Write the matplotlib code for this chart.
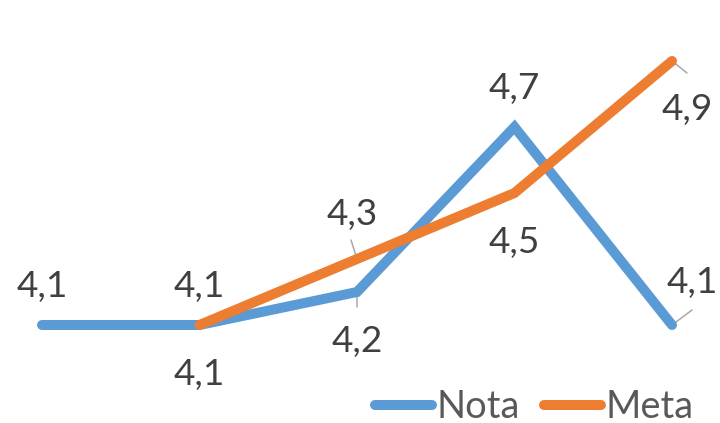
import matplotlib.pyplot as plt
import numpy as np

plt.rcParams['font.family'] = ['Lato', 'DejaVu Sans']

x = [0, 1, 2, 3, 4]
nota = [4.1, 4.1, 4.2, 4.7, 4.1]
meta = [np.nan, 4.1, 4.3, 4.5, 4.9]
nota_labels = ['4,1', '4,1', '4,2', '4,7', '4,1']
meta_labels = ['', '4,1', '4,3', '4,5', '4,9']

# label placement (offset points from the data point, baseline)
nota_off = [(0, 28), (0, 28), (0, -60), (0, 28), (20, 32)]
meta_off = [None, (0, -60), (-5, 34), (0, -60), (15, -59)]
# leader line end offsets, None for no leader
nota_lead = [None, None, (0, -15), None, (20, 15)]
meta_lead = [None, None, (-6, 19), None, (15, -12)]

blue = '#5B9BD5'
orange = '#ED7D31'
txt = '#404040'
fs = 37

fig = plt.figure(figsize=(10, 5.875), dpi=72)
ax = fig.add_axes([0, 0, 1, 1])
ax.set_xlim(-42 / 157.5, 4 + 48 / 157.5)
ax.set_ylim(4.1 - 98 / 330, 4.9 + 61 / 330)
ax.axis('off')

ax.plot(x, nota, color=blue, lw=10, solid_capstyle='round', solid_joinstyle='miter',
        label='Nota', zorder=3)
ax.plot(x, meta, color=orange, lw=10, solid_capstyle='round', solid_joinstyle='miter',
        label='Meta', zorder=4)


def put_labels(vals, labels, offs, leads):
    for xi, v, lab, off, lead in zip(x, vals, labels, offs, leads):
        if off is None:
            continue
        ax.annotate(lab, (xi, v), xytext=off, textcoords='offset points',
                    ha='center', va='baseline', fontsize=fs, color=txt, zorder=5)
        if lead is not None:
            ax.annotate('', (xi, v), xytext=lead, textcoords='offset points',
                        arrowprops=dict(arrowstyle='-', color='#A6A6A6', lw=1.5,
                                        shrinkA=0, shrinkB=0),
                        zorder=2)


put_labels(nota, nota_labels, nota_off, nota_lead)
put_labels(meta, meta_labels, meta_off, meta_lead)

leg = ax.legend(loc='center right', bbox_to_anchor=(694 / 720, 1 - 407 / 423), ncol=2,
                frameon=False, fontsize=38, handlelength=1.5, handletextpad=0.12,
                columnspacing=0.65, borderpad=0, borderaxespad=0)
for t in leg.get_texts():
    t.set_color('#595959')
for ln in leg.get_lines():
    ln.set_solid_capstyle('round')

fig.savefig('out.png', dpi=72)
